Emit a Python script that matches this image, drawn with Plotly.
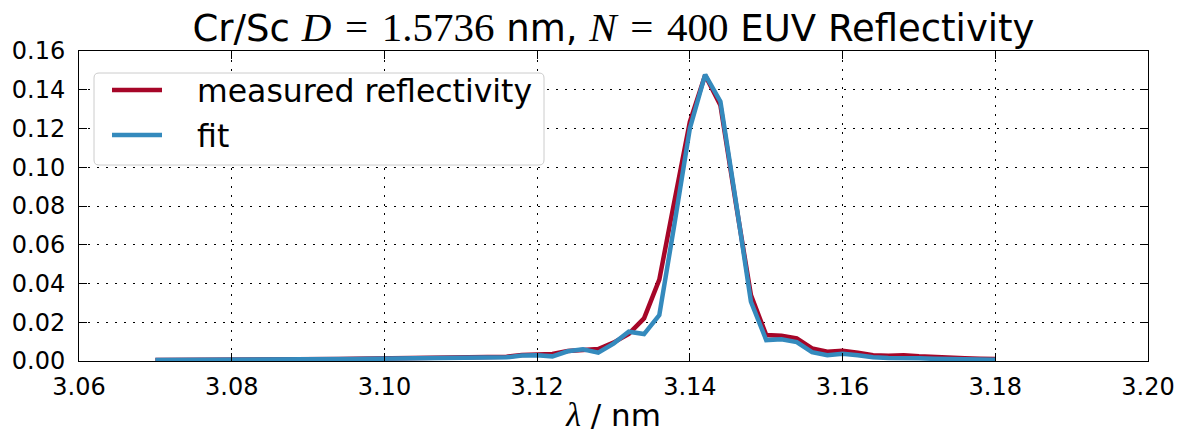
import plotly.graph_objects as go

# Wavelength grid (nm)
wavelength = [
    3.070, 3.072, 3.074, 3.076, 3.078, 3.080, 3.082, 3.084, 3.086, 3.088,
    3.090, 3.092, 3.094, 3.096, 3.098, 3.100, 3.102, 3.104, 3.106, 3.108,
    3.110, 3.112, 3.114, 3.116, 3.118, 3.120, 3.122, 3.124, 3.126, 3.128,
    3.130, 3.132, 3.134, 3.136, 3.138, 3.140, 3.142, 3.144, 3.146, 3.148,
    3.150, 3.152, 3.154, 3.156, 3.158, 3.160, 3.162, 3.164, 3.166, 3.168,
    3.170, 3.172, 3.174, 3.176, 3.178, 3.180,
]

measured = [
    0.0005, 0.0005, 0.0005, 0.0005, 0.0006, 0.0006, 0.0007, 0.0007, 0.0008, 0.0008,
    0.0009, 0.0010, 0.0010, 0.0011, 0.0012, 0.0013, 0.0013, 0.0014, 0.0015, 0.0016,
    0.0017, 0.0019, 0.0020, 0.0022, 0.0031, 0.0034, 0.0036, 0.0052, 0.0058, 0.0062,
    0.0095, 0.0140, 0.0220, 0.0420, 0.0830, 0.1235, 0.1475, 0.1320, 0.0820, 0.0340,
    0.0134, 0.0130, 0.0117, 0.0065, 0.0048, 0.0053, 0.0043, 0.0030, 0.0027, 0.0030,
    0.0024, 0.0019, 0.0016, 0.0014, 0.0012, 0.0010,
]

fit = [
    0.0005, 0.0005, 0.0005, 0.0005, 0.0006, 0.0006, 0.0006, 0.0007, 0.0007, 0.0008,
    0.0008, 0.0009, 0.0009, 0.0010, 0.0011, 0.0012, 0.0012, 0.0013, 0.0014, 0.0014,
    0.0015, 0.0016, 0.0017, 0.0019, 0.0028, 0.0030, 0.0024, 0.0050, 0.0060, 0.0043,
    0.0090, 0.0151, 0.0139, 0.0237, 0.0711, 0.1200, 0.1478, 0.1340, 0.0830, 0.0306,
    0.0108, 0.0112, 0.0098, 0.0046, 0.0030, 0.0038, 0.0030, 0.0019, 0.0016, 0.0017,
    0.0014, 0.0011, 0.0009, 0.0008, 0.0007, 0.0006,
]

x_ticks = [3.06, 3.08, 3.10, 3.12, 3.14, 3.16, 3.18, 3.20]
y_ticks = [0.00, 0.02, 0.04, 0.06, 0.08, 0.10, 0.12, 0.14, 0.16]

RED = "#A60628"
BLUE = "#348ABD"
SANS = "DejaVu Sans"
SERIF = "Liberation Serif"

W, H = 1181, 433
ML, MR, MT, MB = 79, 33, 51, 72
PW, PH = W - ML - MR, H - MT - MB


def math(s, size=None):
    sz = f";font-size:{size}px" if size else ""
    return f"<span style=\"font-family:'{SERIF}'{sz}\">{s}</span>"


SP = "\u2004"
title_text = (
    "Cr/Sc " + math(f"<i>D</i>{SP}={SP}1.5736", 41) + " nm, "
    + math(f"<i>N</i>{SP}={SP}400", 41) + " EUV Reflectivity"
)

fig = go.Figure()
fig.add_trace(go.Scatter(
    x=wavelength, y=measured, mode="lines", name="\u00a0\u00a0\u00a0measured reflectivity",
    legendgroup="m", line=dict(color=RED, width=4.5),
))
fig.add_trace(go.Scatter(
    x=wavelength, y=fit, mode="lines", name="\u00a0\u00a0\u00a0fit",
    legendgroup="f", line=dict(color=BLUE, width=4.5),
))

axis_common = dict(
    showline=True, linecolor="black", linewidth=1, mirror="ticks",
    ticks="inside", ticklen=8, tickwidth=1, tickcolor="black",
    showgrid=True, gridcolor="black", gridwidth=1, griddash="2px,7px",
    zeroline=False, tickfont=dict(family=SANS, size=24, color="black"),
)

fig.update_xaxes(
    range=[3.06, 3.20], tickvals=x_ticks, tickformat=".2f",
    title=dict(text=math("<i>λ</i>", 34) + " / nm", font=dict(family=SANS, size=31, color="black"),
               standoff=4),
    ticklabelstandoff=4,
    **axis_common,
)
fig.update_yaxes(
    range=[0, 0.16], tickvals=y_ticks, tickformat=".2f",
    ticklabelstandoff=8,
    **axis_common,
)


def px_x(p):
    return (p - ML) / PW


def px_y(p):
    return (H - MB - p) / PH


# legend frame with rounded corners
bx0, by0, bx1, by1, r = 94, 73, 544, 165, 5
rx, ry = r / PW, r / PH
X0, X1, Y0, Y1 = px_x(bx0), px_x(bx1), px_y(by1), px_y(by0)
frame_path = (
    f"M{X0 + rx},{Y1} L{X1 - rx},{Y1} Q{X1},{Y1} {X1},{Y1 - ry} "
    f"L{X1},{Y0 + ry} Q{X1},{Y0} {X1 - rx},{Y0} "
    f"L{X0 + rx},{Y0} Q{X0},{Y0} {X0},{Y0 + ry} "
    f"L{X0},{Y1 - ry} Q{X0},{Y1} {X0 + rx},{Y1} Z"
)
fig.add_shape(type="path", path=frame_path, xref="paper", yref="paper",
              line=dict(color="#cccccc", width=1), fillcolor="white", layer="above")

fig.update_layout(
    width=W, height=H,
    margin=dict(l=ML, r=MR, t=MT, b=MB, autoexpand=False),
    paper_bgcolor="white", plot_bgcolor="white",
    title=dict(text=title_text, x=0.5, xref="paper", xanchor="center",
               y=1, yref="paper", yanchor="bottom", pad=dict(b=10),
               font=dict(family=SANS, size=37, color="black")),
    legend=dict(
        x=px_x(107), y=px_y(63), xanchor="left", yanchor="top",
        bgcolor="rgba(0,0,0,0)", borderwidth=0,
        font=dict(family=SANS, size=31.5, color="black"),
        itemwidth=50, tracegroupgap=1,
    ),
    showlegend=True,
)

fig.write_html("out.html")
